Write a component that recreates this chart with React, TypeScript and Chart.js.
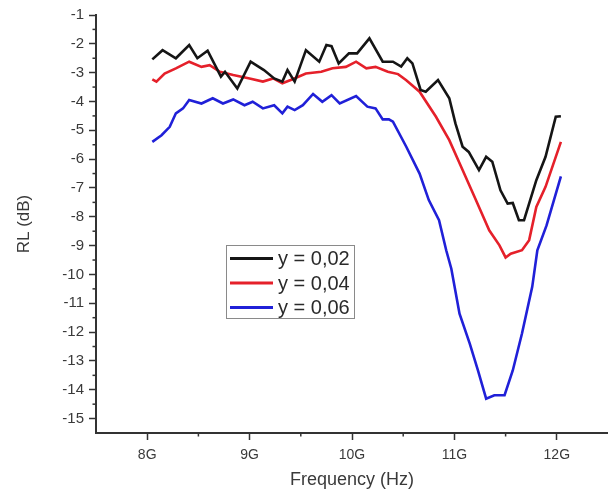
import React, { useEffect, useRef } from "react";
import { Chart, registerables } from "chart.js";

Chart.register(...registerables);

// ---- data ----
const seriesLabels = ["y = 0,02", "y = 0,04", "y = 0,06"];

const freq02 = [8.05, 8.15, 8.28, 8.41, 8.49, 8.59, 8.72, 8.76, 8.88, 9.01, 9.14, 9.24, 9.32, 9.37, 9.44, 9.55, 9.68, 9.75, 9.8, 9.87, 9.97, 10.05, 10.17, 10.3, 10.4, 10.48, 10.54, 10.59, 10.67, 10.72, 10.84, 10.95, 11.01, 11.08, 11.14, 11.24, 11.31, 11.37, 11.45, 11.52, 11.57, 11.63, 11.68, 11.8, 11.89, 11.99, 12.04];
const rl02 = [-2.54, -2.22, -2.5, -2.04, -2.5, -2.24, -3.14, -2.97, -3.55, -2.62, -2.91, -3.2, -3.31, -2.91, -3.31, -2.22, -2.62, -2.04, -2.08, -2.68, -2.33, -2.33, -1.81, -2.62, -2.62, -2.79, -2.5, -2.68, -3.6, -3.66, -3.26, -3.89, -4.76, -5.57, -5.75, -6.38, -5.92, -6.09, -7.08, -7.54, -7.52, -8.12, -8.12, -6.73, -5.92, -4.53, -4.51];

const freq04 = [8.05, 8.09, 8.17, 8.28, 8.41, 8.53, 8.61, 8.71, 8.84, 9.0, 9.13, 9.23, 9.32, 9.42, 9.55, 9.7, 9.81, 9.94, 10.04, 10.14, 10.23, 10.35, 10.45, 10.53, 10.66, 10.82, 10.95, 11.08, 11.21, 11.34, 11.44, 11.5, 11.55, 11.66, 11.73, 11.8, 11.89, 12.04];
const rl04 = [-3.23, -3.31, -3.03, -2.85, -2.62, -2.8, -2.74, -2.97, -3.08, -3.2, -3.31, -3.2, -3.37, -3.23, -3.03, -2.97, -2.85, -2.8, -2.62, -2.85, -2.8, -2.97, -3.05, -3.26, -3.66, -4.53, -5.34, -6.38, -7.42, -8.47, -8.99, -9.41, -9.28, -9.16, -8.81, -7.66, -6.96, -5.4];

const freq06 = [8.05, 8.14, 8.22, 8.28, 8.35, 8.41, 8.53, 8.64, 8.74, 8.84, 8.95, 9.03, 9.13, 9.24, 9.32, 9.37, 9.44, 9.52, 9.62, 9.71, 9.8, 9.88, 10.04, 10.15, 10.23, 10.3, 10.36, 10.4, 10.53, 10.66, 10.75, 10.85, 10.92, 10.97, 11.05, 11.15, 11.23, 11.31, 11.39, 11.49, 11.57, 11.66, 11.76, 11.81, 11.9, 12.04];
const rl06 = [-5.4, -5.17, -4.88, -4.41, -4.24, -3.95, -4.07, -3.89, -4.07, -3.93, -4.13, -4.01, -4.24, -4.13, -4.41, -4.18, -4.3, -4.13, -3.74, -4.01, -3.78, -4.07, -3.81, -4.18, -4.24, -4.62, -4.62, -4.7, -5.57, -6.5, -7.42, -8.12, -9.16, -9.8, -11.36, -12.4, -13.33, -14.31, -14.19, -14.19, -13.33, -12.05, -10.43, -9.16, -8.3, -6.6];

const xTickValues = [8, 9, 10, 11, 12];
const xTickSuffix = "G";

const FONT = "'Liberation Sans', Arial, sans-serif";
const AXIS_COLOR = "#333";
const TEXT_COLOR = "#3a3a3a";
const colors = ["#151515", "#e5202a", "#2020d8"];

function toPoints(xs: number[], ys: number[]) {
  return xs.map((x, i) => ({ x, y: ys[i] }));
}

const isInt = (v: number) => Math.abs(v - Math.round(v)) < 1e-6;

const minorTicksPlugin = {
  id: "minorTicks",
  afterDraw(chart: any) {
    const ctx = chart.ctx;
    const area = chart.chartArea;
    ctx.save();
    ctx.strokeStyle = AXIS_COLOR;
    ctx.lineWidth = 1.5;
    const xs = chart.scales.x;
    xs.ticks.forEach((t: any) => {
      if (isInt(t.value)) return;
      const px = xs.getPixelForValue(t.value);
      if (px <= area.left + 1 || px >= area.right - 1) return;
      ctx.beginPath();
      ctx.moveTo(px, area.bottom);
      ctx.lineTo(px, area.bottom + 3.5);
      ctx.stroke();
    });
    const ys = chart.scales.y;
    ys.ticks.forEach((t: any) => {
      if (isInt(t.value)) return;
      const py = ys.getPixelForValue(t.value);
      if (py >= area.bottom - 1) return;
      ctx.beginPath();
      ctx.moveTo(area.left, py);
      ctx.lineTo(area.left - 3.5, py);
      ctx.stroke();
    });
    ctx.restore();
  },
};

const legendPlugin = {
  id: "boxLegend",
  afterDraw(chart: any) {
    const ctx = chart.ctx;
    const bx = 226, by = 245, bw = 128, bh = 73;
    ctx.save();
    ctx.fillStyle = "#fff";
    ctx.fillRect(bx, by, bw, bh);
    ctx.strokeStyle = "#8a8a8a";
    ctx.lineWidth = 1;
    ctx.strokeRect(bx + 0.5, by + 0.5, bw, bh);
    ctx.font = `20px ${FONT}`;
    ctx.textBaseline = "middle";
    chart.data.datasets.forEach((ds: any, i: number) => {
      const cy = by + 13.5 + i * 24.5;
      ctx.strokeStyle = ds.borderColor;
      ctx.lineWidth = 3;
      ctx.beginPath();
      ctx.moveTo(bx + 4, cy);
      ctx.lineTo(bx + 47, cy);
      ctx.stroke();
      ctx.fillStyle = "#2a2a2a";
      ctx.fillText(ds.label, bx + 52, cy + 1);
    });
    ctx.restore();
  },
};

export default function App() {
  const ref = useRef<HTMLCanvasElement | null>(null);
  useEffect(() => {
    if (!ref.current) return;
    const series = [
      toPoints(freq02, rl02),
      toPoints(freq04, rl04),
      toPoints(freq06, rl06),
    ];
    const chart = new Chart(ref.current, {
      type: "line",
      data: {
        datasets: series.map((pts, i) => ({
          label: seriesLabels[i],
          data: pts,
          borderColor: colors[i],
          backgroundColor: colors[i],
          borderWidth: 2.6,
          pointRadius: 0,
          tension: 0,
          fill: false,
        })),
      },
      options: {
        responsive: false,
        animation: false,
        layout: { padding: { top: 15, left: 0, right: 0, bottom: 0 } },
        plugins: {
          legend: { display: false },
          tooltip: { enabled: false },
        },
        scales: {
          x: {
            type: "linear",
            min: 7.5,
            max: 12.5,
            afterFit: (s: any) => {
              s.height = 64;
              s.paddingLeft = 0;
              s.paddingRight = 0;
            },
            ticks: {
              stepSize: 0.5,
              autoSkip: false,
              maxRotation: 0,
              padding: 7,
              color: TEXT_COLOR,
              font: { family: FONT, size: 14 },
              callback: (v: any) => {
                const n = Number(v);
                return xTickValues.some((t) => Math.abs(t - n) < 1e-6) ? `${Math.round(n)}${xTickSuffix}` : "";
              },
            },
            grid: {
              display: true,
              drawOnChartArea: false,
              drawTicks: true,
              tickLength: 7,
              tickWidth: 1.5,
              tickColor: (c: any) => (c.tick && xTickValues.some((t) => Math.abs(t - c.tick.value) < 1e-6) ? AXIS_COLOR : "rgba(0,0,0,0)"),
            },
            border: { display: true, color: AXIS_COLOR, width: 2 },
            title: {
              display: true,
              text: "Frequency (Hz)",
              color: TEXT_COLOR,
              font: { family: FONT, size: 18 },
              padding: { top: 0, bottom: 6 },
            },
          },
          y: {
            type: "linear",
            min: -15.5,
            max: -1,
            afterFit: (s: any) => {
              s.width = 96;
              s.paddingTop = 0;
              s.paddingBottom = 0;
            },
            ticks: {
              stepSize: 0.5,
              autoSkip: false,
              padding: 5,
              color: TEXT_COLOR,
              font: { family: FONT, size: 15 },
              callback: (v: any) => {
                const n = Number(v);
                return isInt(n) && n <= -1 && n >= -15 ? String(Math.round(n)) : "";
              },
            },
            grid: {
              display: true,
              drawOnChartArea: false,
              drawTicks: true,
              tickLength: 7,
              tickWidth: 1.5,
              tickColor: (c: any) => (c.tick && isInt(c.tick.value) && c.tick.value >= -15 ? AXIS_COLOR : "rgba(0,0,0,0)"),
            },
            border: { display: true, color: AXIS_COLOR, width: 2 },
            title: {
              display: true,
              text: "RL (dB)",
              color: TEXT_COLOR,
              font: { family: FONT, size: 17 },
              padding: { top: 14, bottom: 0 },
            },
          },
        },
      },
      plugins: [minorTicksPlugin, legendPlugin],
    } as any);
    return () => chart.destroy();
  }, []);

  return (
    <div style={{ position: "absolute", left: 0, top: 0, width: 608, height: 497, background: "#fff" }}>
      <canvas ref={ref} width={608} height={497} style={{ width: 608, height: 497, display: "block" }} />
    </div>
  );
}
